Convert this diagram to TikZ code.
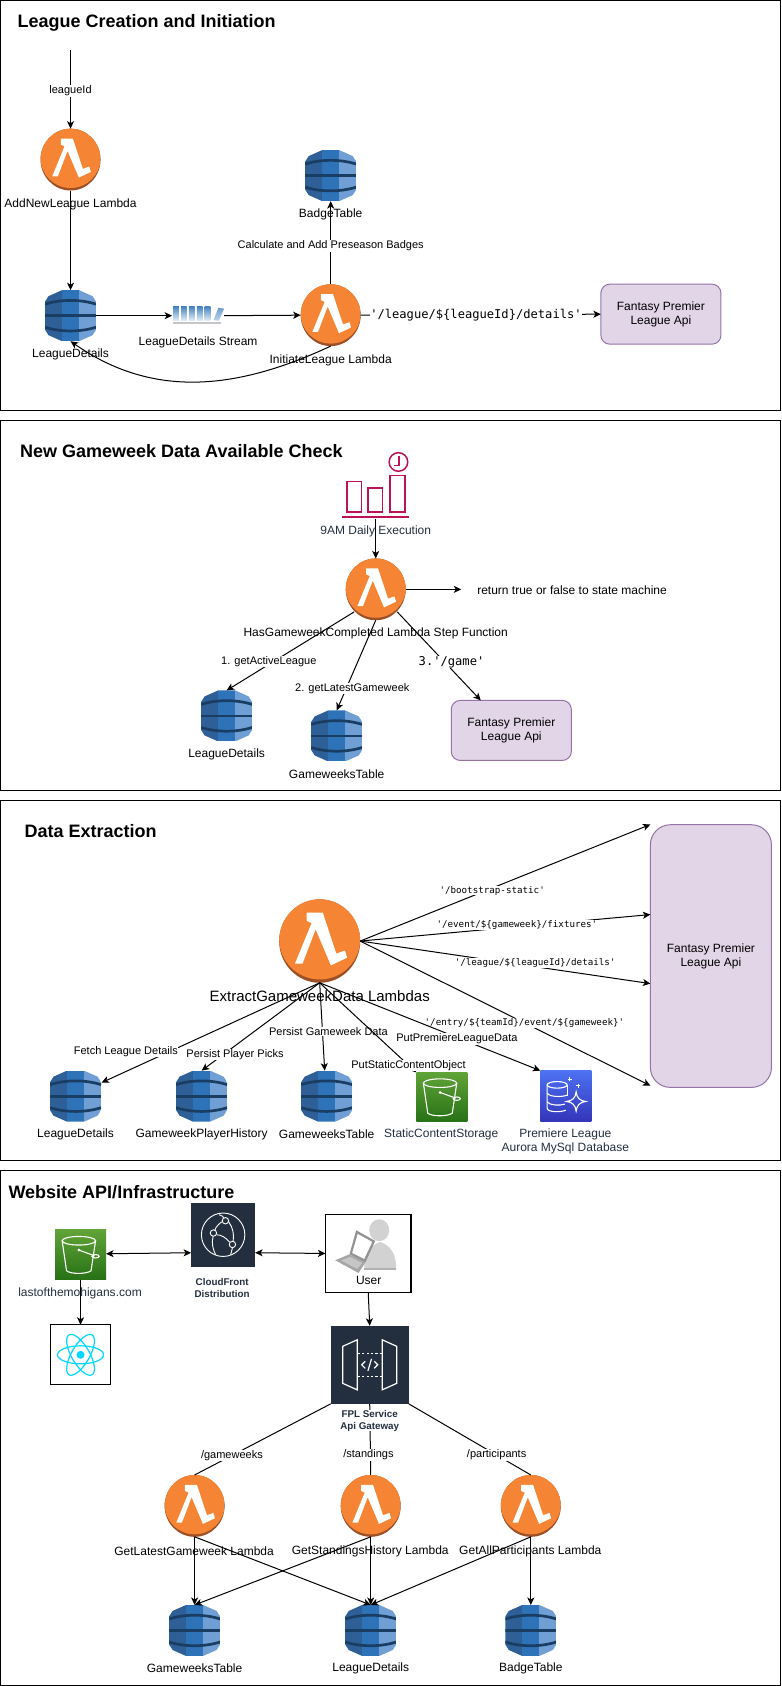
\documentclass[tikz,border=0pt]{standalone}
\usepackage{fontspec}
\usepackage{xcolor}
\usetikzlibrary{arrows.meta,shapes.geometric}
\setmainfont{Liberation Sans}
\newfontfamily\apimono{DejaVu Sans Mono}
\definecolor{lambdaorange}{HTML}{F58534}
\definecolor{lambdadark}{HTML}{9D5025}
\definecolor{dbleft}{HTML}{2E5F96}
\definecolor{dbmid}{HTML}{2E73B8}
\definecolor{dbright}{HTML}{6F9FD4}
\definecolor{dbband}{HTML}{1A3D63}
\definecolor{awsink}{HTML}{232F3E}
\definecolor{apifill}{HTML}{E1D5E7}
\definecolor{apiline}{HTML}{9673A6}
\definecolor{cronpink}{HTML}{BC1356}
\definecolor{reactcyan}{HTML}{00D8FF}
\definecolor{bucketlight}{HTML}{60A337}
\definecolor{bucketdark}{HTML}{277116}
\definecolor{auroralight}{HTML}{4D72F3}
\definecolor{auroradark}{HTML}{3334B9}

\begin{document}
\begin{tikzpicture}[%
    ->,x=1pt,y=-1pt,line width=1pt,>={Stealth[length=7.5pt,width=7pt,inset=2pt]},
    txt/.style={font=\fontsize{12}{14}\selectfont,inner sep=0pt,align=center},
    inktxt/.style={txt,text=awsink},
    boldtxt/.style={font=\fontsize{9.8}{12}\selectfont\bfseries,inner sep=0pt,align=center,text=awsink,fill=white},
    heading/.style={font=\fontsize{18}{22}\selectfont\bfseries,inner sep=0pt,anchor=west},
    edgetxt/.style={font=\fontsize{11}{13}\selectfont,inner sep=0.5pt,fill=white},
    monotxt/.style={font=\apimono\fontsize{12.1}{14}\selectfont,inner sep=0.5pt,fill=white},
    smallmono/.style={font=\apimono\fontsize{9.2}{11}\selectfont,inner sep=0.5pt,fill=white},
    apibox/.style={rectangle,rounded corners=9pt,draw=apiline,fill=apifill,inner sep=0pt,outer sep=0pt,
      minimum width=120pt,minimum height=60pt,align=center,font=\fontsize{12}{14}\selectfont},
    lambdaicon/.style={ellipse,inner sep=0pt,outer sep=0pt,minimum width=#1pt,minimum height={#1pt*1.03},
      fill=lambdadark,path picture={
        \begin{scope}[-,shift={(path picture bounding box.center)},x={#1/60*1pt},y={-#1/60*1pt}]
          \fill[lambdaorange] (0,-1.4) ellipse [x radius=30,y radius=29.8];
          \fill[white] (-9.7,-21) -- (2.3,-21) -- (12.3,9.3) -- (18.7,7) -- (20.3,12.3) -- (8.3,18)
            -- (-3,-8.7) -- (-12.7,16.7) -- (-18.3,16.7) -- (-6,-13.3) -- (-9.7,-15) -- cycle;
        \end{scope}}},
    dbicon/.style={rectangle,inner sep=0pt,outer sep=0pt,minimum size=51pt,path picture={
        \begin{scope}[-,shift={(path picture bounding box.center)}]
          \clip (-8.5,-25.5) -- (8.5,-25.5) -- (22,-19.5) -- (25.5,-14) -- (25.5,14) -- (22,19.5)
            -- (8.5,25.5) -- (-8.5,25.5) -- (-22,19.5) -- (-25.5,14) -- (-25.5,-14) -- (-22,-19.5) -- cycle;
          \fill[dbleft] (-25.5,-25.5) rectangle (-8.5,25.5);
          \fill[dbmid] (-8.5,-25.5) rectangle (8.5,25.5);
          \fill[dbright] (8.5,-25.5) rectangle (25.5,25.5);
          \draw[dbband,line width=2.7pt] (-25.5,-11.5) .. controls (-10,-16.5) and (10,-16.5) .. (25.5,-11.5);
          \draw[dbband,line width=2.7pt] (-25.5,0) -- (25.5,0);
          \draw[dbband,line width=2.7pt] (-25.5,11.5) .. controls (-10,16.5) and (10,16.5) .. (25.5,11.5);
        \end{scope}}},
    bucketicon/.style={rectangle,inner sep=0pt,outer sep=0pt,minimum width=51pt,minimum height=49.5pt,
      top color=bucketlight,bottom color=bucketdark,path picture={
        \begin{scope}[-,shift={(path picture bounding box.center)},white,line width=1.1pt]
          \draw (-1.7,-14) ellipse [x radius=16.7,y radius=4.3];
          \draw (-18.4,-14) -- (-14,16) .. controls (-10,19.5) and (6,19.5) .. (10.5,16) -- (15,-14);
          \fill (-1.7,-4.7) circle [radius=1.5];
          \draw (-1.7,-4.7) -- (14,1);
          \draw (15,1.5) ellipse [x radius=3.6,y radius=1.7];
        \end{scope}}},
    auroraicon/.style={rectangle,inner sep=0pt,outer sep=0pt,minimum width=51pt,minimum height=51pt,
      top color=auroralight,bottom color=auroradark,path picture={
        \begin{scope}[-,shift={(path picture bounding box.center)},white,line width=1.1pt]
          \draw (-8.7,-11.3) ellipse [x radius=10,y radius=3.3];
          \draw (-18.7,-11.3) -- (-18.7,12) .. controls (-18.7,16) and (-6,16.5) .. (0,14);
          \draw (1.3,-11.3) -- (1.3,0);
          \draw (-18.7,-3) .. controls (-16,1) and (-4,1) .. (1.3,-1);
          \draw (-18.7,5.7) .. controls (-16,9.5) and (-6,9.5) .. (-1,8);
          \draw (10.3,-4.4) .. controls (11,2) and (14,4.6) .. (20,5.3) .. controls (14,6) and (11,9) .. (10.3,15)
            .. controls (9.6,9) and (6.6,6) .. (0.6,5.3) .. controls (6.6,4.6) and (9.6,2) .. (10.3,-4.4) -- cycle;
          \draw (4,-19) -- (4,-15) (2,-17) -- (6,-17);
          \draw (12.3,-12.3) -- (12.3,-8.3) (10.3,-10.3) -- (14.3,-10.3);
        \end{scope}}},
    streamicon/.style={rectangle,inner sep=0pt,outer sep=0pt,minimum width=52pt,minimum height=20pt,path picture={
        \begin{scope}[-,shift={(path picture bounding box.center)}]
          \foreach \barx in {-25,-17.1,-9.2,-1.3,6.6}{
            \shade[top color=dbmid!90,bottom color=dbmid!15]
              (\barx,-9.5) rectangle ++(5.7,14);}
          \shade[top color=dbmid!70,bottom color=dbmid!30]
            (15.3,4.5) -- (20.3,-8) -- (26,-7) -- (20.7,5) -- cycle;
          \draw[gray!45,line width=1.4pt] (-25,7.2) -- (22.7,7.2);
        \end{scope}}},
    cronicon/.style={rectangle,inner sep=0pt,outer sep=0pt,minimum width=68pt,minimum height=68pt,path picture={
        \begin{scope}[-,shift={(path picture bounding box.center)},cronpink,line width=1.5pt]
          \draw (-28.8,-3.5) rectangle (-14,27.2);
          \draw (-7.5,3.2) rectangle (7,27.2);
          \draw (14.5,-9.5) rectangle (29.5,27.2);
          \draw (22.7,-22.8) circle [radius=9.3];
          \draw (23.3,-28.5) -- (23.3,-19.5) -- (18.5,-19.5);
          \draw[line width=1.9pt] (-33.5,32.5) -- (33.7,32.5);
        \end{scope}}},
    cloudicon/.style={rectangle,inner sep=0pt,outer sep=0pt,minimum size=64pt,fill=awsink,path picture={
        \begin{scope}[-,shift={(path picture bounding box.center)},white,line width=0.9pt]
          \draw (0,0) circle [radius=21.7];
          \draw (-8.8,-3.5) .. controls (-7,-9) and (-3,-12) .. (0,-13.5);
          \draw (-6.5,0) .. controls (-2,0) and (3,3) .. (6.5,7.5);
          \draw (5.5,-13) .. controls (10,-7) and (11,0) .. (10,6.5);
          \draw (-10,1.5) .. controls (-12,8) and (-10,15) .. (-7.5,20);
          \draw (9.3,13) -- (7.5,20);
          \draw (-4,-20) .. controls (-1,-19) and (1,-18) .. (0.5,-16.5);
          \draw[fill=awsink] (2.3,-14) circle [radius=3.2];
          \draw[fill=awsink] (-9.7,-1.7) circle [radius=3.2];
          \draw[fill=awsink] (9.3,9.7) circle [radius=3.2];
        \end{scope}}},
    gatewayicon/.style={rectangle,inner sep=0pt,outer sep=0pt,minimum size=78pt,fill=awsink,path picture={
        \begin{scope}[-,shift={(path picture bounding box.center)},white,line width=1.2pt]
          \draw (-27,-18.5) -- (-12.5,-25) -- (-12.5,25) -- (-27,18.5) -- cycle;
          \draw (27,-18.5) -- (12.5,-25) -- (12.5,25) -- (27,18.5) -- cycle;
          \draw[dash pattern=on 2.2pt off 2.2pt] (-12,-11.7) -- (12,-11.7);
          \draw[dash pattern=on 2.2pt off 2.2pt] (-12,11.7) -- (12,11.7);
          \draw (-4.5,-3.5) -- (-8,0) -- (-4.5,3.5);
          \draw (4.5,-3.5) -- (8,0) -- (4.5,3.5);
          \draw (1.8,-6) -- (-1.8,6);
        \end{scope}}},
    reactbox/.style={rectangle,draw,fill=white,inner sep=0pt,outer sep=0pt,minimum width=60.5pt,minimum height=60pt,path picture={
        \begin{scope}[-,shift={(path picture bounding box.center)},reactcyan,line width=1.2pt]
          \foreach \ang in {0,60,120}{
            \draw plot[domain=0:350,samples=36,smooth]
              ({23*cos(\x)*cos(\ang)-9*sin(\x)*sin(\ang)},{23*cos(\x)*sin(\ang)+9*sin(\x)*cos(\ang)}) -- cycle;}
          \fill (0,0) circle [radius=4];
        \end{scope}}},
    userbox/.style={rectangle,draw,fill=white,inner sep=0pt,outer sep=0pt,minimum width=85.5pt,minimum height=77.5pt,path picture={
        \begin{scope}[-,shift={(path picture bounding box.center)}]
          \fill[gray!35] (11,-23.2) ellipse [x radius=10,y radius=11];
          \fill[gray!35] (-4,15.8) .. controls (-4,0) and (2,-8) .. (12,-11.5)
            .. controls (22,-8) and (28,0) .. (28,15.8) -- cycle;
          \fill[gray!60] (-4,14.5) rectangle (28,16.5);
          \fill[gray!85] (-12,-23.2) -- (7,-12.5) -- (-3,9.2) -- (-18.7,0.8) -- cycle;
          \fill[white] (-10.5,-19.5) -- (4,-11.5) -- (-4,5.5) -- (-16,-0.5) -- cycle;
          \fill[gray!70] (-18.7,0.8) -- (-3,9.2) -- (-9.7,19.5) -- (-33,6.8) -- cycle;
          \fill[gray!45] (-18,3.5) -- (-6,9.5) -- (-11,15.5) -- (-27,7) -- cycle;
        \end{scope}}},
  ]
    % four panels
    \draw (0.5,0.5) rectangle (780.5,410);
    \draw (0.5,420) rectangle (780.5,790);
    \draw (0.5,800) rectangle (780.5,1160);
    \draw (0.5,1170) rectangle (780.5,1684.5);

    % league creation
    \node[heading] (title1) at (17,22.5) {League Creation and Initiation};
    \coordinate (leaguein) at (70.5,50);
    \node[lambdaicon=60] (addlambda) at (70.5,159.5) {};
    \node[txt] (addname) at (70.5,204) {AddNewLeague Lambda};
    \node[dbicon] (details1) at (70.5,315.5) {};
    \node[txt] (details1name) at (70.5,354) {LeagueDetails};
    \node[streamicon] (stream) at (198,315.5) {};
    \node[txt] (streamname) at (198,342) {LeagueDetails Stream};
    \node[lambdaicon=60] (initlambda) at (330.5,315) {};
    \node[txt] (initname) at (330.5,360) {InitiateLeague Lambda};
    \node[dbicon] (badge1) at (330.5,175.5) {};
    \node[txt] (badge1name) at (330.5,214) {BadgeTable};
    \node[apibox] (api1) at (660.5,314) {Fantasy Premier\\League Api};
    \path (leaguein)  edge node[edgetxt,pos=.52] {leagueId} (addlambda.north)
          (addlambda.south) edge (details1.north)
          (details1.east) edge (stream.west)
          (stream.east) edge (initlambda.west)
          (initlambda.north) edge node[edgetxt,pos=.46] {Calculate and Add Preseason Badges} (badge1.south)
          (initlambda.east) edge node[monotxt,pos=.48] {'/league/\$\{leagueId\}/details'} (api1.west)
          (initlambda.south) edge [out=205,in=-35] (details1.south)
          ;

    % gameweek check
    \node[heading] (title2) at (19.5,451) {New Gameweek Data Available Check};
    \node[cronicon] (cron) at (375.5,484.5) {};
    \node[inktxt] (cronname) at (375.5,531.5) {9AM Daily Execution};
    \node[lambdaicon=60] (checklambda) at (375.5,589) {};
    \node[txt] (checkname) at (375.5,633.5) {HasGameweekCompleted Lambda Step Function};
    \coordinate (returnend) at (461,589);
    \node[txt,anchor=west] (returntxt) at (476.5,589.5) {return true or false to state machine};
    \node[dbicon] (details2) at (226.5,715.5) {};
    \node[txt] (details2name) at (226.5,753.5) {LeagueDetails};
    \node[dbicon] (weeks2) at (336.5,735.5) {};
    \node[txt] (weeks2name) at (336.5,773.5) {GameweeksTable};
    \node[apibox] (api2) at (511,730) {Fantasy Premier\\League Api};
    \coordinate (check1) at (354,611.5);
    \coordinate (check3) at (397,611.5);
    \coordinate (api2top) at (480.5,700);
    \path (cron.south) edge (checklambda.north)
          (checklambda.east) edge (returnend)
          (check1) edge node[edgetxt,pos=.63,xshift=-5pt] {1. getActiveLeague} (details2.north)
          (checklambda.south) edge node[edgetxt,pos=.754,xshift=6pt] {2. getLatestGameweek} (weeks2.north)
          (check3) edge node[monotxt,pos=.566,xshift=7pt] {3.'/game'} (api2top)
          ;

    % data extraction
    \node[heading] (title3) at (24,830.5) {Data Extraction};
    \node[lambdaicon=81] (extract) at (319.5,940.5) {};
    \node[txt,font=\fontsize{15}{18}\selectfont] (extractname) at (319.5,996) {ExtractGameweekData Lambdas};
    \node[apibox,rounded corners=20pt,minimum width=121pt,minimum height=262.5pt] (api3) at (710.5,955.5) {Fantasy Premier\\League Api};
    \coordinate (apibootstrap) at (650,824);
    \coordinate (apifixtures) at (650,914);
    \coordinate (apidetails) at (650,983);
    \coordinate (apientry) at (650,1085);
    \node[dbicon] (details3) at (75.5,1095.5) {};
    \node[txt] (details3name) at (75.5,1134) {LeagueDetails};
    \node[dbicon] (history) at (201.5,1095.5) {};
    \node[txt] (historyname) at (201.5,1134) {GameweekPlayerHistory};
    \node[dbicon] (weeks3) at (326.5,1095.5) {};
    \node[txt] (weeks3name) at (326.5,1134) {GameweeksTable};
    \node[bucketicon] (content) at (441.5,1096.5) {};
    \node[inktxt] (contentname) at (441,1134) {StaticContentStorage};
    \node[auroraicon] (aurora) at (565.5,1095.5) {};
    \node[inktxt] (auroraname) at (565,1141) {Premiere League\\Aurora MySql Database};
    \path (extract.east) edge node[smallmono,pos=.434,xshift=6pt] {'/bootstrap-static'} (apibootstrap)
          (extract.east) edge node[smallmono,pos=.54,yshift=2pt] {'/event/\$\{gameweek\}/fixtures'} (apifixtures)
          (extract.east) edge node[smallmono,pos=.603,yshift=4pt] {'/league/\$\{leagueId\}/details'} (apidetails)
          (extract.east) edge node[smallmono,pos=.566] {'/entry/\$\{teamId\}/event/\$\{gameweek\}'} (apientry)
          (extract.south) edge node[edgetxt,pos=.705,xshift=-40pt,yshift=2pt] {Fetch League Details} ([xshift=26pt,yshift=13.5pt]details3.center)
          (extract.south) edge node[edgetxt,pos=.818,xshift=12pt] {Persist Player Picks} (history.north)
          (extract.south) edge node[edgetxt,pos=.55,xshift=6pt] {Persist Gameweek Data} ([xshift=-2pt]weeks3.north)
          (extract.south) edge node[edgetxt,pos=.92] {PutStaticContentObject} (content.north west)
          (extract.south) edge node[edgetxt,pos=.64,xshift=-4pt] {PutPremiereLeagueData} (aurora.north west)
          ;

    % website
    \node[heading] (title4) at (8,1191) {Website API/Infrastructure};
    \node[bucketicon] (site) at (80.5,1254) {};
    \node[inktxt] (sitename) at (80,1293) {lastofthemohigans.com};
    \node[cloudicon] (cloudfront) at (223,1234) {};
    \node[boldtxt] (cloudname) at (222,1287) {CloudFront\\Distribution};
    \node[userbox] (user) at (368,1252.7) {};
    \node[txt] (username) at (368.5,1280) {User};
    \node[reactbox] (react) at (80.5,1354) {};
    \node[gatewayicon] (gateway) at (369.5,1364) {};
    \node[lambdaicon=60] (weeklambda) at (194.5,1505) {};
    \node[txt] (weeklambdaname) at (194,1550) {GetLatestGameweek Lambda};
    \node[lambdaicon=60] (standlambda) at (370.5,1505) {};
    \node[txt] (standlambdaname) at (370,1550) {GetStandingsHistory Lambda};
    \node[lambdaicon=60] (partlambda) at (530.5,1505) {};
    \node[txt] (partlambdaname) at (530,1550) {GetAllParticipants Lambda};
    \node[dbicon] (weeks4) at (194.5,1629.5) {};
    \node[txt] (weeks4name) at (194.5,1667.5) {GameweeksTable};
    \node[dbicon] (details4) at (370.5,1629.5) {};
    \node[txt] (details4name) at (370.5,1667.5) {LeagueDetails};
    \node[dbicon] (badge4) at (530.5,1629.5) {};
    \node[txt] (badge4name) at (530.5,1667.5) {BadgeTable};
    \path ([yshift=1pt]site.east) edge [<->] ([yshift=-18pt]cloudfront.west)
          ([yshift=-18pt]cloudfront.east) edge [<->] (user.west)
          (site.south) edge (react.north)
          (user.south) edge (gateway.north)
          (gateway.south west) edge [-] node[edgetxt,pos=.726] {/gameweeks} (weeklambda.north)
          (gateway.south) edge [-] node[edgetxt,pos=.72,xshift=-2pt] {/standings} (standlambda.north)
          (gateway.south east) edge [-] node[edgetxt,pos=.72] {/participants} (partlambda.north)
          (weeklambda.south) edge (weeks4.north)
          (weeklambda.south) edge (details4.north)
          (standlambda.south) edge (weeks4.north)
          (standlambda.south) edge (details4.north)
          (partlambda.south) edge (details4.north)
          (partlambda.south) edge (badge4.north)
          ;
    \node[boldtxt] (gatewayname) at (369.5,1420) {FPL Service\\Api Gateway};
  \end{tikzpicture}
\end{document}
